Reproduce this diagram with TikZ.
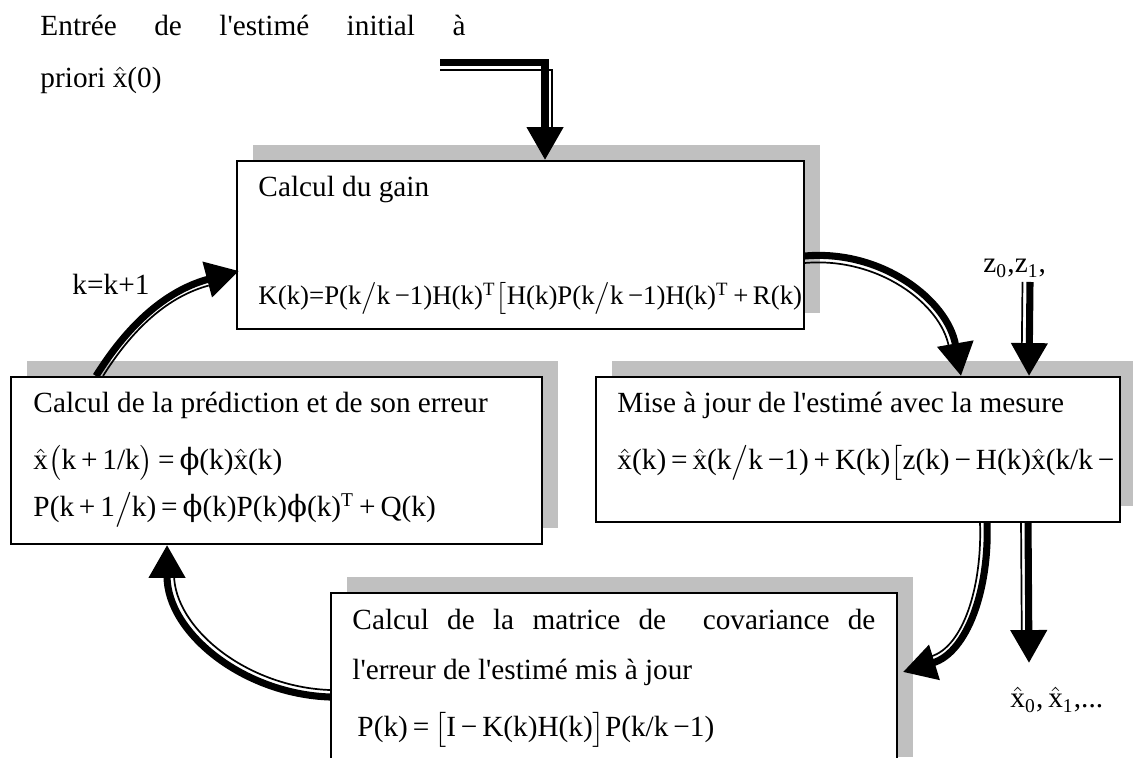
\documentclass[tikz,border=0pt]{standalone}
\usepackage{amsmath}
\usepackage{fontspec}
\setmainfont{Liberation Serif}
\newfontfamily\phifont{DejaVu Serif}
\usetikzlibrary{arrows.meta,calc,shadows}
\definecolor{shadowgray}{RGB}{192,192,192}
\newcommand{\xh}{\ensuremath{\hat{\text{x}}}}
\newcommand{\ph}{{\phifont ϕ}}
\newcommand{\bsl}{\ensuremath{\big/}}
\newcommand{\lbr}{\ensuremath{\big[}}
\newcommand{\rbr}{\ensuremath{\big]}}
\newcommand{\tsp}{\textsuperscript{T}}

\begin{document}
\begin{tikzpicture}[x=0.41pt, y=0.41pt,
		every node/.style={font=\fontsize{12}{14}\selectfont},
		bloc/.style={draw, line width=0.8pt, fill=white, inner sep=0pt,
			drop shadow={shadow xshift=6.56pt, shadow yshift=6.56pt, fill=shadowgray, opacity=1}},
		txt/.style={anchor=base west, inner sep=0pt},
		heavy/.style={line width=2.9pt, -{Triangle[length=13.5pt, width=14.4pt]}},
		light/.style={line width=0.7pt, shorten >=12pt}]
		\useasboundingbox (0,0) rectangle (1133,758);
		\clip (0,0) rectangle (1133,758);
		% blocs
		\node [bloc, minimum width=232.47pt, minimum height=68.88pt] (gain) at (520.5,513) {};
		\node [bloc, minimum width=217.71pt, minimum height=68.47pt] (pred) at (276.5,297.5) {};
		\node [bloc, minimum width=214.84pt, minimum height=59.45pt] (upd) at (858,308.5) {};
		\node [bloc, minimum width=232.06pt, minimum height=73.8pt] (cov) at (614,75) {};
		% textes
		\node [txt] (intro1) at (40,722) {\makebox[174.25pt][s]{Entrée de l\textquotesingle estimé initial à}};
		\node [txt] (intro2) at (40,670) {priori \xh(0)};
		\node [txt] (gainT) at (258,561) {Calcul du gain};
		\node [txt, font=\fontsize{11}{13}\selectfont] (gainF) at (258,453) {K(k)=P(k\bsl k\,−1)H(k)\tsp\lbr H(k)P(k\bsl k\,−1)H(k)\tsp\,+\,R(k)};
		\node [txt] (kk) at (72,463) {k=k+1};
		\node [txt] (predT) at (33,345) {Calcul de la prédiction et de son erreur};
		\node [txt] (predF1) at (33,288) {\xh\ensuremath{\big(}k\,+\,1/k\ensuremath{\big)}\,=\,\ph(k)\xh(k)};
		\node [txt] (predF2) at (33,241) {P(k\,+\,1\bsl k)\,=\,\ph(k)P(k)\ph(k)\tsp\,+\,Q(k)};
		\node [txt] (updT) at (617,345) {Mise à jour de l\textquotesingle estimé avec la mesure};
		\node [txt] (updF) at (617,288) {\xh(k)\,=\,\xh(k\bsl k\,−1)\,+\,K(k)\lbr z(k)\,−\,H(k)\xh(k/k\,−};
		\node [txt] (covT1) at (352,128) {\makebox[214.4pt][s]{Calcul de la matrice de\ \ covariance de}};
		\node [txt] (covT2) at (352,78) {l\textquotesingle erreur de l\textquotesingle estimé mis à jour};
		\node [txt] (covF) at (357,21) {P(k)\,=\,\lbr I\,−\,K(k)H(k)\rbr P(k/k\,−1)};
		\node [txt] (zlab) at (983,485) {z\textsubscript{0},z\textsubscript{1},};
		\node [txt] (xlab) at (1010,50) {\xh\textsubscript{0},\,\xh\textsubscript{1},...};
		% fleches
		\coordinate (init) at (440,695.5);
		\coordinate (zin) at (1030,476);
		\coordinate (xout) at (1029,95);
		\draw [heavy] (init) -| ($(gain.north west)+(309,0)$);
		\draw [light] ($(init)+(0,-7.5)$) -| ($(gain.north west)+(316,0)$);
		\draw [heavy] ($(gain.east)+(0,-11)$) to[out=5,in=100] ($(upd.north west)+(366,0)$);
		\draw [light] ($(gain.east)+(0,-18)$) to[out=5,in=100] ($(upd.north west)+(359,0)$);
		\draw [heavy] ($(pred.north west)+(86,0)$) to[out=58,in=195] ($(gain.south west)+(3,59)$);
		\draw [light] ($(pred.north west)+(93,0)$) to[out=58,in=195] ($(gain.south west)+(1,52)$);
		\draw [heavy] ($(upd.south west)+(392,0)$) to[out=-88,in=17] ($(cov.north east)+(5,-80)$);
		\draw [light] ($(upd.south west)+(385,0)$) to[out=-88,in=17] ($(cov.north east)+(5,-73)$);
		\draw [heavy] ($(cov.north west)+(0,-105)$) to[out=178,in=-90] ($(pred.south west)+(157,0)$);
		\draw [light] ($(cov.north west)+(0,-98)$) to[out=178,in=-90] ($(pred.south west)+(164,0)$);
		\draw [heavy] (zin) -- ($(upd.north west)+(434,0)$);
		\draw [light] ($(zin)+(-7.5,0)$) -- ($(upd.north west)+(426.5,0)$);
		\draw [heavy] ($(upd.south west)+(433,0)$) -- (xout);
		\draw [light] ($(upd.south west)+(426,0)$) -- ($(xout)+(-7,0)$);
\end{tikzpicture}
\end{document}
